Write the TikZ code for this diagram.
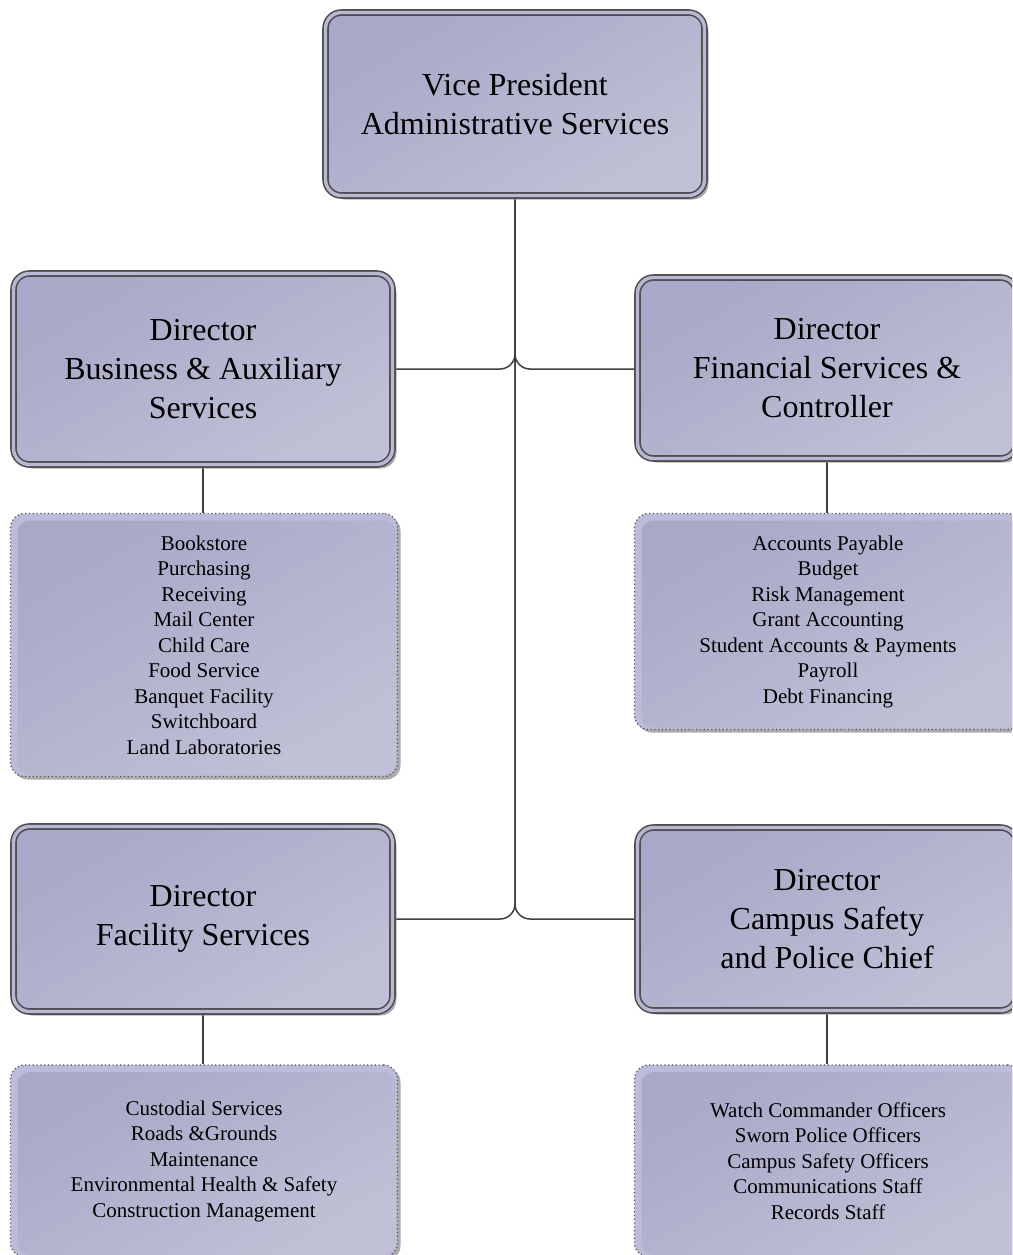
\documentclass[tikz,border=0pt]{standalone}
\usepackage{fontspec}
\setmainfont{Liberation Serif}
\usetikzlibrary{shadows,backgrounds}

\definecolor{boxtop}{RGB}{168,168,200}
\definecolor{boxbot}{RGB}{192,192,214}
\definecolor{bandlav}{RGB}{184,184,212}
\definecolor{listband}{RGB}{188,188,218}
\definecolor{edgegray}{RGB}{78,78,78}
\definecolor{linegray}{RGB}{64,64,64}
\definecolor{shadowgray}{RGB}{150,150,150}

\tikzset{
  headbox/.style={rectangle, rounded corners=16pt, minimum width=379pt,
    inner sep=0pt, align=center, font=\fontsize{32}{39}\selectfont,
    draw=edgegray, line width=1.6pt, double=bandlav, double distance=3.4pt,
    top color=boxtop, bottom color=boxbot, shading angle=30,
    drop shadow={shadow xshift=4pt, shadow yshift=-4pt, fill=shadowgray, opacity=0.8}},
  listbox/.style={rectangle, rounded corners=14pt, minimum width=387pt,
    inner sep=0pt, align=center, font=\fontsize{21}{25.5}\selectfont,
    draw=edgegray, line width=1.2pt, dash pattern=on 1.2pt off 2.6pt,
    fill=listband,
    drop shadow={shadow xshift=3pt, shadow yshift=-3pt, fill=shadowgray, opacity=0.8},
    path picture={\shade[top color=boxtop, bottom color=boxbot, shading angle=30,
      rounded corners=12pt]
      ([shift={(7pt,-7pt)}]path picture bounding box.north west) rectangle
      ([shift={(-2pt,2pt)}]path picture bounding box.south east);}},
  link/.style={draw=linegray, line width=1.5pt, rounded corners=15pt},
}

\begin{document}
\begin{tikzpicture}[x=1pt,y=-1pt]
\useasboundingbox (0,0) rectangle (1012,1255);
\clip (0,0) rectangle (1012,1255);

% top of the chart
\node[headbox, minimum height=183pt] (vp) at (515,104)
  {Vice President\\Administrative Services};

% directors
\node[headbox, minimum height=191pt] (biz) at (203,369)
  {Director\\Business \& Auxiliary\\Services};
\node[headbox, minimum height=181pt] (fin) at (827,368)
  {Director\\Financial Services \&\\Controller};
\node[headbox, minimum height=185pt] (fac) at (203,919)
  {Director\\Facility Services};
\node[headbox, minimum height=183pt] (cps) at (827,919)
  {Director\\Campus Safety\\and Police Chief};

% departments under each director
\node[listbox, minimum height=263pt] (bizl) at (204,645)
  {Bookstore\\Purchasing\\Receiving\\Mail Center\\Child Care\\Food Service\\Banquet Facility\\Switchboard\\Land Laboratories};
\node[listbox, minimum height=216pt] (finl) at (828,621.5)
  {Accounts Payable\\Budget\\Risk Management\\Grant Accounting\\Student Accounts \& Payments\\Payroll\\Debt Financing};
\node[listbox, minimum height=192pt] (facl) at (204,1161)
  {Custodial Services\\Roads \&Grounds\\Maintenance\\Environmental Health \& Safety\\Construction Management};
\node[listbox, minimum height=192pt] (cpsl) at (828,1161)
  {Watch Commander Officers\\Sworn Police Officers\\Campus Safety Officers\\Communications Staff\\Records Staff};

% reporting lines
\begin{scope}[on background layer]
  \fill[white] (0,0) rectangle (1012,1255);
  \draw[link] (vp.south) |- (biz.east);
  \draw[link] (vp.south) |- (biz.east -| fin.west);
  \draw[link] (vp.south) |- (fac.east);
  \draw[link] (vp.south) |- (cps.west);
  \draw[link] (biz.south) -- (biz.south |- bizl.north);
  \draw[link] (fin.south) -- (fin.south |- finl.north);
  \draw[link] (fac.south) -- (fac.south |- facl.north);
  \draw[link] (cps.south) -- (cps.south |- cpsl.north);
\end{scope}
\end{tikzpicture}
\end{document}
